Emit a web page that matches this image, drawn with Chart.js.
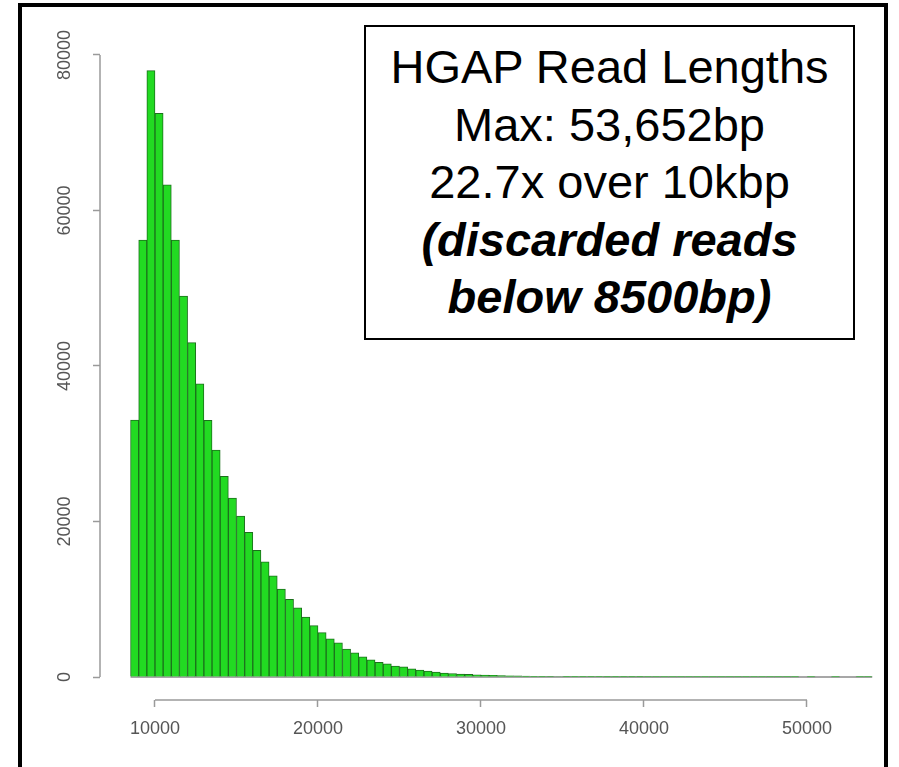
<!DOCTYPE html>
<html>
<head>
<meta charset="utf-8">
<script src="https://cdn.jsdelivr.net/npm/chart.js@4.4.1/dist/chart.umd.min.js"></script>
<style>
  html, body { margin: 0; padding: 0; background: #fff; overflow: hidden; }
  #wrap { position: relative; width: 899px; height: 767px; }
  #frame {
    position: absolute; left: 18px; top: 3px; width: 862px; height: 820px;
    border: 4px solid #000; pointer-events: none;
  }
  #note {
    position: absolute; left: 364px; top: 25px; width: 487px; height: 300px;
    border: 2px solid #000; background: #fff; padding-top: 11px;
    font-family: "Liberation Sans", Arial, sans-serif; font-size: 47px;
    line-height: 57.5px; text-align: center; color: #000;
  }
  #note b { font-style: italic; }
</style>
</head>
<body>
<div id="wrap">
  <canvas id="myChart" width="899" height="767"></canvas>
  <div id="note">HGAP Read Lengths<br>Max: 53,652bp<br>22.7x over 10kbp<br><b>(discarded reads<br>below 8500bp)</b></div>
  <div id="frame"></div>
</div>
<script>
// histogram bins of read length (bp)
var binStart = 8500;
var binWidth = 500;
var counts = [
  33050, 56200, 78000, 72500, 63300, 56200, 49000, 43000, 37700, 33000,
  29200, 25800, 23000, 20700, 18600, 16300, 14800, 13000, 11300, 10000,
  8900, 7700, 6600, 5700, 4900, 4400, 3600, 3100, 2600, 2200,
  1900, 1700, 1400, 1300, 1050, 900, 770, 640, 520, 450,
  390, 340, 290, 250, 215, 185, 160, 135, 115, 100,
  85, 72, 62, 53, 45, 39, 33, 28, 24, 20,
  17, 15, 13, 11, 9, 8, 7, 6, 5, 4,
  4, 3, 3, 2, 2, 2, 1, 1, 1, 1,
  1, 1, 0, 1, 0, 0, 1, 0, 0, 1, 1
];
var xTicks = [10000, 20000, 30000, 40000, 50000];
var yTicks = [0, 20000, 40000, 60000, 80000];

var axisColor = '#9a9a9a';
var labelColor = '#555555';

var points = counts.map(function (c, i) {
  return { x: binStart + binWidth * i + binWidth / 2, y: c };
});

// R style axes: lines only between first and last tick,
// plus the baseline that the bar outlines leave under empty bins
var rAxes = {
  id: 'rAxes',
  beforeDatasetsDraw: function (chart) {
    var ctx = chart.ctx;
    var x = chart.scales.x, y = chart.scales.y;
    var y0 = y.getPixelForValue(0);
    ctx.save();
    ctx.strokeStyle = '#8a8a8a';
    ctx.lineWidth = 1.5;
    ctx.beginPath();
    ctx.moveTo(x.getPixelForValue(binStart), y0);
    ctx.lineTo(x.getPixelForValue(binStart + binWidth * counts.length), y0);
    ctx.stroke();
    ctx.restore();
  },
  afterDraw: function (chart) {
    var ctx = chart.ctx;
    var x = chart.scales.x, y = chart.scales.y;
    var area = chart.chartArea;
    ctx.save();
    ctx.strokeStyle = axisColor;
    ctx.lineWidth = 1.5;
    ctx.beginPath();
    ctx.moveTo(area.left, y.getPixelForValue(yTicks[0]));
    ctx.lineTo(area.left, y.getPixelForValue(yTicks[yTicks.length - 1]));
    ctx.moveTo(x.getPixelForValue(xTicks[0]), area.bottom);
    ctx.lineTo(x.getPixelForValue(xTicks[xTicks.length - 1]), area.bottom);
    ctx.stroke();
    ctx.restore();
  }
};

var ctx = document.getElementById('myChart').getContext('2d');
var chart = new Chart(ctx, {
  type: 'bar',
  data: {
    datasets: [{
      label: 'Reads',
      data: points,
      backgroundColor: 'rgb(34, 218, 34)',
      borderColor: 'rgb(28, 112, 28)',
      borderWidth: 1,
      barPercentage: 1,
      categoryPercentage: 1
    }]
  },
  options: {
    responsive: false,
    animation: false,
    layout: { padding: { top: 40, right: 24, left: 0, bottom: 0 } },
    plugins: {
      legend: { display: false },
      tooltip: { enabled: false }
    },
    scales: {
      x: {
        type: 'linear',
        offset: false,
        min: 6626,
        max: 54172,
        afterBuildTicks: function (scale) {
          scale.ticks = xTicks.map(function (v) { return { value: v }; });
        },
        afterFit: function (scale) { scale.height = 67; },
        grid: {
          offset: false,
          drawOnChartArea: false,
          drawTicks: true,
          tickLength: 7,
          tickColor: axisColor,
          tickWidth: 1.5
        },
        border: { display: false },
        ticks: {
          padding: 11,
          color: labelColor,
          font: { family: 'Liberation Sans', size: 18 },
          maxRotation: 0,
          callback: function (v) { return String(v); }
        }
      },
      y: {
        min: -2958,
        max: 81929,
        afterBuildTicks: function (scale) {
          scale.ticks = yTicks.map(function (v) { return { value: v }; });
        },
        afterFit: function (scale) { scale.width = 100; },
        grid: {
          drawOnChartArea: false,
          drawTicks: true,
          tickLength: 7,
          tickColor: axisColor,
          tickWidth: 1.5
        },
        border: { display: false },
        ticks: {
          padding: 3,
          minRotation: 90,
          maxRotation: 90,
          crossAlign: 'center',
          color: labelColor,
          font: { family: 'Liberation Sans', size: 18 },
          callback: function (v) { return String(v); }
        }
      }
    }
  },
  plugins: [rAxes]
});
</script>
</body>
</html>
